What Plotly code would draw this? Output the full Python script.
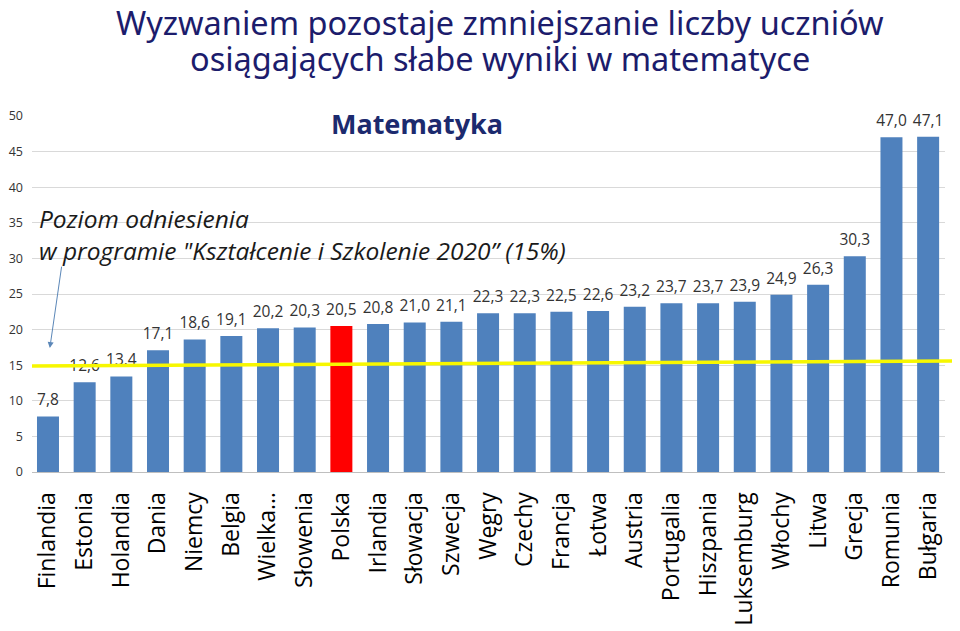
import plotly.graph_objects as go

countries = ["Finlandia", "Estonia", "Holandia", "Dania", "Niemcy", "Belgia", "Wielka…",
             "Słowenia", "Polska", "Irlandia", "Słowacja", "Szwecja", "Węgry", "Czechy",
             "Francja", "Łotwa", "Austria", "Portugalia", "Hiszpania", "Luksemburg",
             "Włochy", "Litwa", "Grecja", "Romunia", "Bułgaria"]
values = [7.8, 12.6, 13.4, 17.1, 18.6, 19.1, 20.2, 20.3, 20.5, 20.8, 21.0, 21.1, 22.3,
          22.3, 22.5, 22.6, 23.2, 23.7, 23.7, 23.9, 24.9, 26.3, 30.3, 47.0, 47.1]
highlight = "Polska"
benchmark = 15
y_ticks = [0, 5, 10, 15, 20, 25, 30, 35, 40, 45, 50]
title_lines = ["Wyzwaniem pozostaje zmniejszanie liczby uczniów",
               "osiągających słabe wyniki w matematyce"]

colors = ["#ff0000" if c == highlight else "#4f81bd" for c in countries]
xs = list(range(len(countries)))

fig = go.Figure()
fig.add_trace(go.Bar(
    x=xs, y=values, marker=dict(color=colors, line=dict(width=0)),
    width=0.6, showlegend=False, hoverinfo="skip",
))
fig.add_trace(go.Scatter(
    x=xs, y=values, mode="markers+text",
    marker=dict(size=10, opacity=0),
    text=[f"{v:.1f}".replace(".", ",") for v in values],
    textposition="top center", cliponaxis=False,
    textfont=dict(family="Open Sans", size=15.5, color="#333333"),
    showlegend=False,
))

fig.add_shape(type="line", xref="paper", yref="y", x0=0, x1=1.02,
              y0=benchmark - 0.1, y1=benchmark + 0.6,
              line=dict(color="#f7f700", width=3.5))

fig.add_annotation(
    xref="paper", yref="paper", x=0.006, y=0.57, xanchor="left", yanchor="bottom",
    text="<i>Poziom odniesienia<br>w programie \"Kształcenie i Szkolenie 2020” (15%)</i>",
    showarrow=False, align="left",
    font=dict(family="Open Sans", size=24.5, color="#1a1a1a"))
fig.add_annotation(x=0.05, y=17.4, xref="x", yref="y", ax=12, ay=-83, text="",
                   showarrow=True, arrowhead=2, arrowsize=1.2, arrowwidth=1,
                   arrowcolor="#5b87b8")
fig.add_annotation(xref="paper", yref="paper", x=0.422, y=0.978, xanchor="center",
                   yanchor="middle", text="<b>Matematyka</b>", showarrow=False,
                   font=dict(family="Noto Sans", size=27, color="#1c2a6e"))

for line, yp in zip(title_lines, [1.262, 1.162]):
    fig.add_annotation(xref="paper", yref="paper", x=0.5126, y=yp, xanchor="center",
                       yanchor="middle", text=line, showarrow=False,
                       font=dict(family="Noto Sans", size=32.5, color="#1c1c6c"))

fig.update_layout(
    width=952, height=623,
    margin=dict(l=24, r=15, t=108, b=159),
    paper_bgcolor="white", plot_bgcolor="white",
    separators=", ",
    xaxis=dict(tickmode="array", tickvals=xs, ticktext=countries, tickangle=-90,
               range=[-0.436, 24.46], showgrid=False, zeroline=False, automargin=False,
               showline=True, linecolor="#bfbfbf", ticklabelstandoff=10,
               tickfont=dict(family="Open Sans", size=23, color="#000000")),
    yaxis=dict(range=[0, 50], tickvals=y_ticks, showgrid=True, gridcolor="#d9d9d9",
               zeroline=False, ticks="", ticklabelstandoff=8, automargin=False,
               tickfont=dict(family="Open Sans", size=12.5, color="#333333")),
)

fig.write_html("out.html")
